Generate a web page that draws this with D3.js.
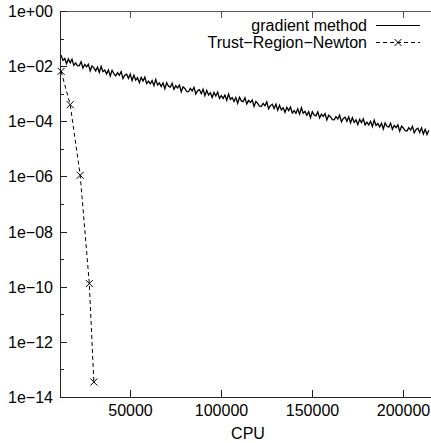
<!DOCTYPE html>
<html>
<head>
<meta charset="utf-8">
<script src="https://cdn.jsdelivr.net/npm/d3@7"></script>
<style>
  body { margin: 0; background: #fff; }
  text { font-family: "Liberation Sans", Arial, sans-serif; font-size: 16px; fill: #000; }
</style>
</head>
<body>
<div id="chart"></div>
<script>
const gradCpuStart = 12000;
const gradCpuStep = 1000;
const gradLog10 = [
  -1.60, -1.79, -1.72, -1.91, -1.74, -1.88, -1.75, -1.97, -1.88, -1.99,
  -1.98, -1.84, -2.07, -1.94, -2.03, -1.93, -2.17, -1.99, -2.06, -2.17,
  -2.04, -2.23, -2.01, -2.20, -2.14, -2.28, -2.14, -2.36, -2.15, -2.27,
  -2.35, -2.24, -2.33, -2.20, -2.45, -2.33, -2.29, -2.44, -2.29, -2.52,
  -2.33, -2.51, -2.42, -2.60, -2.41, -2.54, -2.40, -2.63, -2.54, -2.64,
  -2.52, -2.71, -2.48, -2.68, -2.61, -2.74, -2.61, -2.82, -2.60, -2.73,
  -2.76, -2.62, -2.84, -2.71, -2.79, -2.69, -2.93, -2.75, -2.81, -2.92,
  -2.93, -2.81, -2.90, -2.77, -3.01, -2.89, -2.85, -3.00, -2.84, -3.07,
  -2.88, -3.05, -2.97, -3.14, -2.95, -3.08, -2.94, -3.17, -3.07, -3.17,
  -3.05, -3.24, -3.01, -3.21, -3.14, -3.28, -3.14, -3.35, -3.13, -3.26,
  -3.29, -3.15, -3.37, -3.24, -3.32, -3.23, -3.46, -3.28, -3.35, -3.45,
  -3.46, -3.35, -3.44, -3.30, -3.55, -3.43, -3.38, -3.54, -3.38, -3.60,
  -3.42, -3.59, -3.51, -3.68, -3.49, -3.61, -3.48, -3.70, -3.61, -3.71,
  -3.55, -3.74, -3.51, -3.71, -3.64, -3.78, -3.65, -3.87, -3.65, -3.77,
  -3.80, -3.66, -3.88, -3.74, -3.82, -3.72, -3.95, -3.78, -3.84, -3.94,
  -3.95, -3.83, -3.92, -3.78, -4.02, -3.90, -3.85, -4.00, -3.84, -4.06,
  -3.87, -4.04, -3.95, -4.12, -3.93, -4.05, -3.91, -4.13, -4.03, -4.13,
  -4.00, -4.19, -3.96, -4.15, -4.08, -4.21, -4.07, -4.28, -4.06, -4.18,
  -4.21, -4.07, -4.29, -4.15, -4.23, -4.13, -4.36, -4.18, -4.24, -4.34,
  -4.35, -4.23, -4.32, -4.18, -4.42, -4.30, -4.25, -4.40, -4.24, -4.46,
  -4.29, -4.48, -4.33
];

// Trust-Region-Newton iterates
const trCpu = [12000, 17000, 22500, 27500, 30000];
const trValue = [6.5e-3, 4.0e-4, 1.1e-6, 1.3e-10, 3.5e-14];

const xTicks = [50000, 100000, 150000, 200000];
const yTicks = [1e0, 1e-2, 1e-4, 1e-6, 1e-8, 1e-10, 1e-12, 1e-14];
const yTickLabels = ["1e+00", "1e\u221202", "1e\u221204", "1e\u221206", "1e\u221208", "1e\u221210", "1e\u221212", "1e\u221214"];
const yMinorTicks = [1e-1, 1e-3, 1e-5, 1e-7, 1e-9, 1e-11, 1e-13];
const seriesNames = ["gradient method", "Trust\u2212Region\u2212Newton"];

const W = 431, H = 443;
const padLeft = 60, padTop = 11, padBottom = 397, padRight = 431;

const svg = d3.select('#chart').append('svg')
  .attr('width', W).attr('height', H);

const x = d3.scaleLinear().domain([11400, 215200]).range([padLeft, padRight]);
const y = d3.scaleLog().domain([1e-14, 1]).range([padBottom, padTop]);

const gradData = gradLog10.map((e, i) => ({ cpu: gradCpuStart + i * gradCpuStep, v: Math.pow(10, e) }));
const trData = trCpu.map((c, i) => ({ cpu: c, v: trValue[i] }));

// clip plot lines to the frame
svg.append('clipPath').attr('id', 'clip')
  .append('rect').attr('x', padLeft).attr('y', padTop).attr('width', padRight - padLeft).attr('height', padBottom - padTop);

// Border (top + left + bottom)
const axisColor = '#222';
svg.append('line').attr('x1', padLeft).attr('x2', padRight).attr('y1', padTop + 0.5).attr('y2', padTop + 0.5).attr('stroke', '#555');
svg.append('line').attr('x1', padLeft + 0.5).attr('x2', padLeft + 0.5).attr('y1', padTop).attr('y2', padBottom).attr('stroke', axisColor);
svg.append('line').attr('x1', padLeft).attr('x2', padRight).attr('y1', padBottom + 0.5).attr('y2', padBottom + 0.5).attr('stroke', axisColor);

// Y axis ticks (inward) and labels
const yAxis = svg.append('g');
yTicks.forEach((t, i) => {
  const yy = Math.round(y(t)) + 0.5;
  yAxis.append('line').attr('x1', padLeft).attr('x2', padLeft + 7).attr('y1', yy).attr('y2', yy).attr('stroke', axisColor);
  yAxis.append('text').attr('x', 53).attr('y', yy).attr('dy', '0.35em')
    .attr('text-anchor', 'end').text(yTickLabels[i]);
});
yMinorTicks.forEach(t => {
  const yy = Math.round(y(t)) + 0.5;
  yAxis.append('line').attr('x1', padLeft).attr('x2', padLeft + 4).attr('y1', yy).attr('y2', yy).attr('stroke', axisColor);
});

// X axis ticks (inward, mirrored on top) and labels
const xAxis = svg.append('g');
xTicks.forEach(t => {
  const xx = Math.round(x(t)) + 0.5;
  xAxis.append('line').attr('x1', xx).attr('x2', xx).attr('y1', padBottom).attr('y2', padBottom - 7).attr('stroke', axisColor);
  xAxis.append('line').attr('x1', xx).attr('x2', xx).attr('y1', padTop).attr('y2', padTop + 7).attr('stroke', '#555');
  xAxis.append('text').attr('x', xx).attr('y', 416).attr('text-anchor', 'middle').text(t);
});

svg.append('text').attr('x', 248).attr('y', 439).attr('text-anchor', 'middle').text('CPU');

const line = d3.line().x(d => x(d.cpu)).y(d => y(d.v));

const plot = svg.append('g').attr('clip-path', 'url(#clip)');

plot.append('path').datum(gradData)
  .attr('d', line).attr('fill', 'none').attr('stroke', '#000').attr('stroke-width', 1.3);

plot.append('path').datum(trData)
  .attr('d', line).attr('fill', 'none').attr('stroke', '#000').attr('stroke-width', 1)
  .attr('stroke-dasharray', '4,3');

const cross = (g, cx, cy) => {
  g.append('path')
    .attr('d', `M${cx - 3.5},${cy - 3.5}L${cx + 3.5},${cy + 3.5}M${cx - 3.5},${cy + 3.5}L${cx + 3.5},${cy - 3.5}`)
    .attr('stroke', '#000').attr('stroke-width', 1).attr('fill', 'none');
};
trData.forEach(d => cross(svg, x(d.cpu), y(d.v)));

// Legend
const legend = svg.append('g');
legend.append('text').attr('x', 367).attr('y', 25).attr('dy', '0.35em').attr('text-anchor', 'end').text(seriesNames[0]);
legend.append('line').attr('x1', 376).attr('x2', 420).attr('y1', 25.5).attr('y2', 25.5).attr('stroke', '#000');
legend.append('text').attr('x', 367).attr('y', 42).attr('dy', '0.35em').attr('text-anchor', 'end').text(seriesNames[1]);
legend.append('line').attr('x1', 376).attr('x2', 420).attr('y1', 42.5).attr('y2', 42.5).attr('stroke', '#000')
  .attr('stroke-dasharray', '4,3');
cross(legend, 398, 42.5);
</script>
</body>
</html>
